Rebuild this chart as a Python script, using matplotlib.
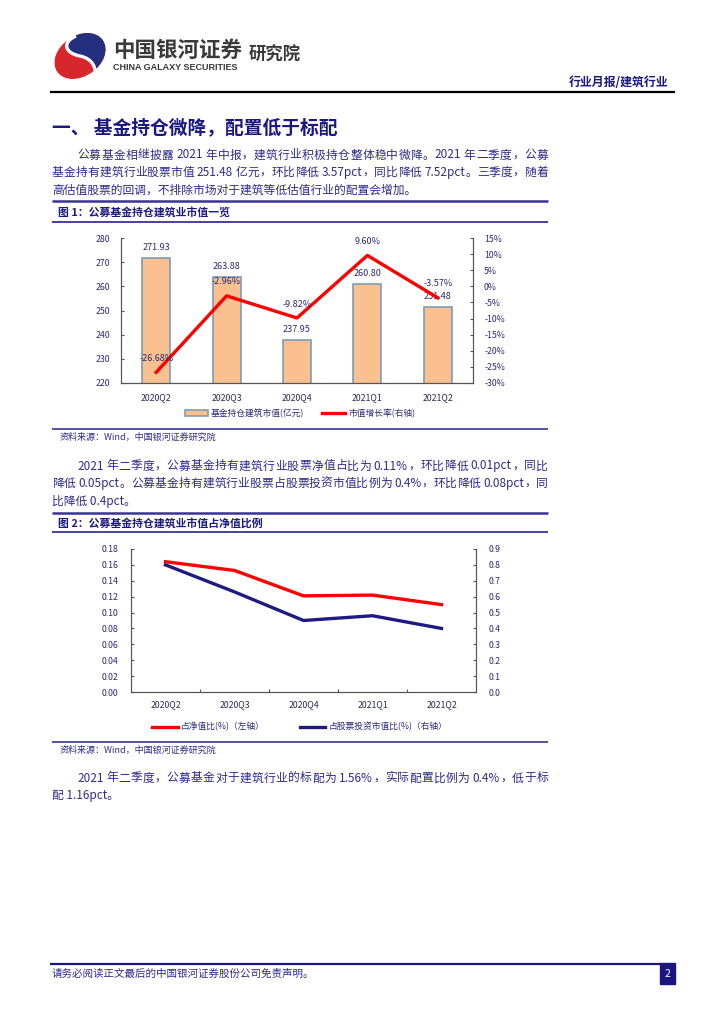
import re
import matplotlib
matplotlib.use("Agg")
import matplotlib.pyplot as plt
from matplotlib.patches import Ellipse, PathPatch, Rectangle
from matplotlib.path import Path
from matplotlib.ticker import FuncFormatter

plt.rcParams['font.family'] = ['Noto Sans CJK SC', 'DejaVu Sans']
plt.rcParams['axes.unicode_minus'] = False

# --- data ---
quarters = ['2020Q2', '2020Q3', '2020Q4', '2021Q1', '2021Q2']
fund_value = [271.93, 263.88, 237.95, 260.80, 251.48]    # 基金持仓建筑市值(亿元)
value_growth = [-26.68, -2.96, -9.82, 9.60, -3.57]        # 市值增长率(%), right axis
nav_ratio = [0.164, 0.153, 0.121, 0.122, 0.110]           # 占净值比(%), left axis
stock_ratio = [0.80, 0.63, 0.45, 0.48, 0.40]              # 占股票投资市值比(%), right axis

para1 = ["公募基金相继披露 2021 年中报，建筑行业积极持仓整体稳中微降。2021 年二季度，公募",
         "基金持有建筑行业股票市值 251.48 亿元，环比降低 3.57pct，同比降低 7.52pct。三季度，随着",
         "高估值股票的回调，不排除市场对于建筑等低估值行业的配置会增加。"]
para2 = ["2021 年二季度，公募基金持有建筑行业股票净值占比为 0.11%，环比降低 0.01pct，同比",
         "降低 0.05pct。公募基金持有建筑行业股票占股票投资市值比例为 0.4%，环比降低 0.08pct，同",
         "比降低 0.4pct。"]
para3 = ["2021 年二季度，公募基金对于建筑行业的标配为 1.56%，实际配置比例为 0.4%，低于标",
         "配 1.16pct。"]

NAVY = '#1b1880'
BODY = '#2e2b8e'
BAR_LINE = '#3b3196'
LABEL = '#2b2a78'

W, H = 724, 1024
fig = plt.figure(figsize=(W / 100, H / 100), dpi=100)
page = fig.add_axes([0, 0, 1, 1])
page.set_xlim(0, W)
page.set_ylim(H, 0)
page.axis('off')


def px_axes(l, t, r, b):
    return fig.add_axes([l / W, 1 - b / H, (r - l) / W, (b - t) / H])


def hline(y, x0, x1, color, lw):
    page.plot([x0, x1], [y, y], color=color, lw=lw, solid_capstyle='butt')


def justified(y, s, x0, x1, size, color):
    # spread the glyphs so the line runs from x0 to x1, like the justified text of the page
    toks = re.findall(r' |[A-Za-z0-9.%]+|\S', s)
    r = fig.canvas.get_renderer()
    items = []
    for t in toks:
        if t == ' ':
            items.append((None, 2.5))
        else:
            o = page.text(0, y, t, fontsize=size, color=color, va='center', ha='left',
                          fontweight='light')
            items.append((o, o.get_window_extent(r).width))
    n = sum(1 for o, w in items if o is not None)
    gap = (x1 - x0 - sum(w for o, w in items)) / (n - 1)
    x = x0
    for o, w in items:
        if o is None:
            x += w
            continue
        o.set_x(x)
        x += w + gap


def paragraph(lines, y0, step=17.5):
    for i, s in enumerate(lines):
        y = y0 + i * step
        x0 = 77 if i == 0 else 52
        if i < len(lines) - 1:
            justified(y, s, x0, 548, 8.5, BODY)
        else:
            page.text(x0, y, s, fontsize=8.5, color=BODY, va='center', fontweight='light')


def title_bar(y_top, y_bot, s):
    hline(y_top, 52, 548, BAR_LINE, 1.8)
    hline(y_bot, 52, 548, BAR_LINE, 1.3)
    page.text(58, (y_top + y_bot) / 2 + 0.5, s, fontsize=7.8, fontweight='bold',
              color=NAVY, va='center')


def source(y_line):
    hline(y_line, 52, 548, BAR_LINE, 1.2)
    page.text(60, y_line + 8.5, "资料来源：Wind，中国银河证券研究院", fontsize=6.5,
              color=BODY, va='center', style='italic', fontweight='light')


# --- header / logo ---
page.add_patch(Ellipse((80, 56), 54, 39, angle=-35, color='#d8262c'))
blue = Ellipse((80, 56), 54, 39, angle=-35, color='#24307f')
page.add_patch(blue)
clip = Path([(76, 36), (62, 42), (64, 53), (80, 56), (93, 59), (96, 67), (96, 79),
             (118, 79), (118, 28), (76, 28), (76, 36)],
            [Path.MOVETO, Path.CURVE4, Path.CURVE4, Path.CURVE4, Path.CURVE4, Path.CURVE4,
             Path.CURVE4, Path.LINETO, Path.LINETO, Path.LINETO, Path.CLOSEPOLY])
blue.set_clip_path(PathPatch(clip, transform=page.transData))
s_curve = Path([(76, 36), (62, 42), (64, 53), (80, 56), (93, 59), (96, 67), (96, 79)],
               [Path.MOVETO, Path.CURVE4, Path.CURVE4, Path.CURVE4, Path.CURVE4,
                Path.CURVE4, Path.CURVE4])
page.add_patch(PathPatch(s_curve, fc='none', ec='white', lw=2.4))

page.text(113, 50, "中国银河证券", fontsize=15.5, fontweight='bold', color='#3a3a3a', va='center')
page.text(113, 68, "CHINA GALAXY SECURITIES", fontsize=6.5, fontweight='bold',
          color='#3a3a3a', va='center', family='Liberation Sans')
page.text(249, 55, "研究院", fontsize=12.5, fontweight='bold', color='#3a3a3a', va='center')
page.text(668, 83, "行业月报/建筑行业", fontsize=8.6, fontweight='bold', color=NAVY,
          va='center', ha='right')
hline(92, 50, 675, 'black', 1.6)

page.text(52, 128, "一、 基金持仓微降，配置低于标配", fontsize=13.5, fontweight='bold',
          color=NAVY, va='center')
paragraph(para1, 155)

# --- figure 1 ---
title_bar(201, 222, "图 1：公募基金持仓建筑业市值一览")
x = list(range(len(quarters)))
ax = px_axes(121, 238, 473, 383)
bars = ax.bar(x, fund_value, width=0.4, color='#fac08f', edgecolor='#7d9db3', linewidth=1.2,
              label='基金持仓建筑市值(亿元)', zorder=2)
ax.set_ylim(220, 280)
ax.set_yticks(range(220, 281, 10))
ax.set_xlim(-0.5, 4.5)
ax.set_xticks(x)
ax.set_xticklabels(quarters)
for xi, v in zip(x, fund_value):
    ax.annotate(f"{v:.2f}", (xi, v), xytext=(0, 7.5), textcoords='offset points',
                ha='center', va='center', fontsize=6.5, color=LABEL)

ax2 = ax.twinx()
line1, = ax2.plot(x, value_growth, color='#ff0000', lw=2.4, label='市值增长率(右轴)', zorder=3)
ax2.set_ylim(-30, 15)
ax2.set_yticks(range(-30, 16, 5))
ax2.yaxis.set_major_formatter(FuncFormatter(lambda v, p: f"{v:.0f}%"))
for xi, v in zip(x, value_growth):
    ax2.annotate(f"{v:.2f}%", (xi, v), xytext=(0, 10), textcoords='offset points',
                 ha='center', va='center', fontsize=6.5, color=LABEL)

for a in (ax, ax2):
    a.spines['top'].set_visible(False)
    for sp in ('left', 'right', 'bottom'):
        a.spines[sp].set_color('#555555')
        a.spines[sp].set_linewidth(0.8)
    a.tick_params(axis='y', direction='in', length=2.5, width=0.8, colors='#555555',
                  labelcolor=LABEL, labelsize=6.3, pad=8)
ax.spines['bottom'].set_color('#222222')
ax.tick_params(axis='x', length=0, labelsize=6.3, labelcolor='#2a2a50', pad=7)
ax.set_facecolor('none')

ax.legend([bars, line1], [bars.get_label(), line1.get_label()], loc='center', ncol=2,
          bbox_to_anchor=(300 / W, 1 - 413 / H), bbox_transform=fig.transFigure,
          frameon=False, fontsize=6.3, handlelength=2.6, handletextpad=0.4,
          columnspacing=2.0, labelcolor=LABEL)
source(429)

paragraph(para2, 466)

# --- figure 2 ---
title_bar(513, 532, "图 2：公募基金持仓建筑业市值占净值比例")
bx = px_axes(131, 549, 476, 692)
la, = bx.plot(x, nav_ratio, color='#ff0000', lw=2.4, label='占净值比(%)（左轴）')
bx.set_ylim(0, 0.18)
bx.set_yticks([i * 0.02 for i in range(10)])
bx.yaxis.set_major_formatter(FuncFormatter(lambda v, p: f"{v:.2f}"))
bx.set_xlim(-0.5, 4.5)
bx.set_xticks(x)
bx.set_xticklabels(quarters)
bx.set_xticks([0.5, 1.5, 2.5, 3.5], minor=True)
bx2 = bx.twinx()
lb, = bx2.plot(x, stock_ratio, color='#1f1a80', lw=2.4, label='占股票投资市值比(%)（右轴）')
bx2.set_ylim(0, 0.9)
bx2.set_yticks([i * 0.1 for i in range(10)])
bx2.yaxis.set_major_formatter(FuncFormatter(lambda v, p: f"{v:.1f}"))
for a in (bx, bx2):
    a.spines['top'].set_visible(False)
    for sp in ('left', 'right', 'bottom'):
        a.spines[sp].set_color('#555555')
        a.spines[sp].set_linewidth(0.8)
    a.tick_params(axis='y', direction='in', length=2.5, width=0.8, colors='#555555',
                  labelcolor=LABEL, labelsize=6.3, pad=9)
bx.tick_params(axis='x', which='major', length=0, labelsize=6.3, labelcolor='#2a2a50', pad=6)
bx.tick_params(axis='x', which='minor', direction='in', length=2.5, width=0.8, colors='#555555')

bx.legend([la, lb], [la.get_label(), lb.get_label()], loc='center', ncol=2,
          bbox_to_anchor=(300 / W, 1 - 727 / H), bbox_transform=fig.transFigure,
          frameon=False, fontsize=6.3, handlelength=2.9, handletextpad=0.4,
          columnspacing=4.0, labelcolor=LABEL)
source(742)

paragraph(para3, 778)

# --- footer ---
hline(964, 50, 661, '#1c1480', 1.6)
page.add_patch(Rectangle((660, 963), 15, 21, color='#1c1480'))
page.text(667.5, 974, "2", fontsize=7.5, color='white', ha='center', va='center')
page.text(52, 974, "请务必阅读正文最后的中国银河证券股份公司免责声明。", fontsize=7.6,
          color=BODY, va='center', fontweight='light')

fig.savefig("out.png", dpi=100)
